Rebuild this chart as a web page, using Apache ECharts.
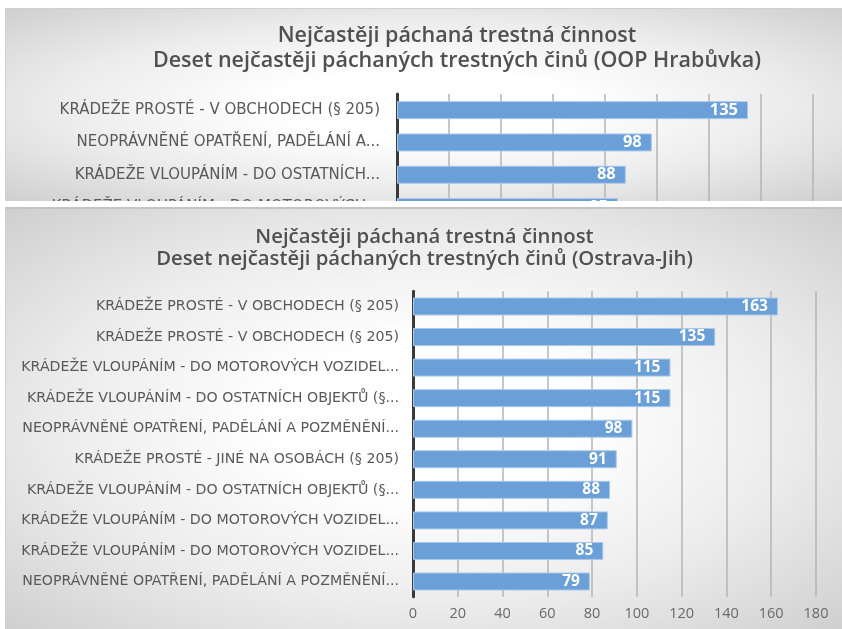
<!DOCTYPE html>
<html>
<head>
<meta charset="utf-8">
<script src="https://cdn.jsdelivr.net/npm/echarts@6/dist/echarts.min.js"></script>
<style>
  html, body { margin: 0; padding: 0; background: #ffffff; width: 842px; height: 629px; overflow: hidden; }
  .panel { position: absolute; overflow: hidden;
           background: radial-gradient(ellipse at center, #ffffff 25%, #ececec 62%, #cfcfcf 100%); }
  #topPanel { left: 5px; top: 8px; width: 837px; height: 192px; border-top: 1px solid #d0d0d0; border-left: 1px solid #d0d0d0; }
  #bottomPanel { left: 5px; top: 207px; width: 837px; height: 422px; border-top: 2px solid #c4c4c4; border-left: 1px solid #d0d0d0; }
  #topChart { position: absolute; left: 0; top: 0; width: 902px; height: 320px; }
  #bottomChart { position: absolute; left: 0; top: 0; width: 837px; height: 422px; }
</style>
</head>
<body>
<div id="topPanel" class="panel"><div id="topChart"></div></div>
<div id="bottomPanel" class="panel"><div id="bottomChart"></div></div>
<script>
// ---- Data: top (OOP Hrabůvka, cropped in the source) ----
var topTitle = 'Nejčastěji páchaná trestná činnost\nDeset nejčastěji páchaných trestných činů (OOP Hrabůvka)';
var topCategories = [
  'KRÁDEŽE PROSTÉ - V OBCHODECH (§ 205)',
  'NEOPRÁVNĚNÉ OPATŘENÍ, PADĚLÁNÍ A...',
  'KRÁDEŽE VLOUPÁNÍM - DO OSTATNÍCH...',
  'KRÁDEŽE VLOUPÁNÍM - DO MOTOROVÝCH...'
];
var topValues = [135, 98, 88, 85];

// ---- Data: bottom (Ostrava-Jih) ----
var bottomTitle = 'Nejčastěji páchaná trestná činnost\nDeset nejčastěji páchaných trestných činů (Ostrava-Jih)';
var bottomCategories = [
  'KRÁDEŽE PROSTÉ - V OBCHODECH (§ 205)',
  'KRÁDEŽE PROSTÉ - V OBCHODECH (§ 205)',
  'KRÁDEŽE VLOUPÁNÍM - DO MOTOROVÝCH VOZIDEL...',
  'KRÁDEŽE VLOUPÁNÍM - DO OSTATNÍCH OBJEKTŮ (§...',
  'NEOPRÁVNĚNÉ OPATŘENÍ, PADĚLÁNÍ A POZMĚNĚNÍ...',
  'KRÁDEŽE PROSTÉ - JINÉ NA OSOBÁCH (§ 205)',
  'KRÁDEŽE VLOUPÁNÍM - DO OSTATNÍCH OBJEKTŮ (§...',
  'KRÁDEŽE VLOUPÁNÍM - DO MOTOROVÝCH VOZIDEL...',
  'KRÁDEŽE VLOUPÁNÍM - DO MOTOROVÝCH VOZIDEL...',
  'NEOPRÁVNĚNÉ OPATŘENÍ, PADĚLÁNÍ A POZMĚNĚNÍ...'
];
var bottomValues = [163, 135, 115, 115, 98, 91, 88, 87, 85, 79];

var axisMin = 0, axisMax = 180, axisStep = 20;

var FONT = '"Open Sans", "DejaVu Sans", sans-serif';
var LFONT = '"DejaVu Sans", "Open Sans", sans-serif';
var barColor = '#6b9fd7';
var barBorder = '#a8c9ec';

function makeOption(o) {
  return {
    animation: false,
    backgroundColor: 'transparent',
    title: {
      text: o.title, left: 'center', top: o.titleTop,
      textStyle: { fontFamily: FONT, fontSize: o.titleSize, fontWeight: 600, color: '#505050', lineHeight: o.titleLH }
    },
    grid: { left: o.gridLeft, top: o.gridTop, width: o.gridWidth, height: o.gridHeight,
            containLabel: false, outerBoundsMode: 'none' },
    xAxis: {
      type: 'value', min: axisMin, max: axisMax, interval: axisStep,
      axisLine: { show: false }, axisTick: { show: false },
      axisLabel: { fontFamily: FONT, fontSize: 14.5, color: '#6a6a6a', margin: 10 },
      splitLine: { lineStyle: { color: '#b4b4b4', width: 1.5 } }
    },
    yAxis: {
      type: 'category', inverse: true, data: o.categories,
      axisLine: { lineStyle: { color: '#3a3a3a', width: 3 } },
      axisTick: { show: false },
      axisLabel: { fontFamily: LFONT, fontSize: o.labelSize, color: '#595959', margin: o.labelMargin }
    },
    series: [{
      type: 'bar', data: o.values, barWidth: o.barWidth,
      itemStyle: { color: barColor, borderColor: barBorder, borderWidth: 1 },
      label: { show: true, position: 'insideRight', distance: o.valDist, color: '#ffffff',
               fontFamily: FONT, fontWeight: 'bold', fontSize: o.valSize }
    }]
  };
}

var topChart = echarts.init(document.getElementById('topChart'), null, { renderer: 'canvas' });
topChart.setOption(makeOption({
  title: topTitle, titleTop: 9.5, titleSize: 21.5, titleLH: 25,
  gridLeft: 391, gridTop: 85, gridWidth: 468, gridHeight: 129.2,
  categories: topCategories, values: topValues,
  labelSize: 15, labelMargin: 17, barWidth: 18, valDist: 10, valSize: 16.5
}));

var bottomChart = echarts.init(document.getElementById('bottomChart'), null, { renderer: 'canvas' });
bottomChart.setOption(makeOption({
  title: bottomTitle, titleTop: 12.5, titleSize: 20.3, titleLH: 22,
  gridLeft: 407, gridTop: 82.2, gridWidth: 403, gridHeight: 305.6,
  categories: bottomCategories, values: bottomValues,
  labelSize: 14.2, labelMargin: 14, barWidth: 18, valDist: 10, valSize: 15.5
}));
</script>
</body>
</html>
